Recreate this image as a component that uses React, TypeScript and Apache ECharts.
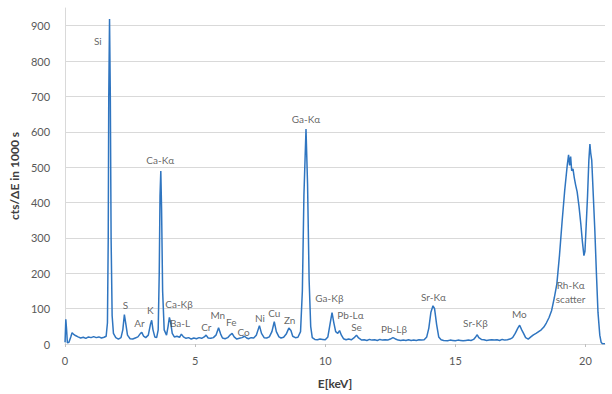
import React, { useEffect, useRef } from "react";
import * as echarts from "echarts";

// Spectrum: energy (keV) and counts per ΔE in 1000 s
const energy = [
  0.0, 0.03, 0.06, 0.09, 0.15, 0.22, 0.27, 0.32, 0.4, 0.5, 0.6, 0.7, 0.8, 0.9, 1.0, 1.1, 1.2, 1.3, 1.4, 1.5, 1.58,
  1.63, 1.66, 1.68, 1.71, 1.74, 1.77, 1.81, 1.86, 1.95, 2.05, 2.15, 2.22, 2.28, 2.34, 2.4, 2.5, 2.6, 2.7, 2.8,
  2.9, 2.95, 3.02, 3.1, 3.2, 3.28, 3.33, 3.38, 3.45, 3.52, 3.58, 3.62, 3.65, 3.68, 3.71, 3.75, 3.81, 3.9, 3.96,
  4.01, 4.06, 4.12, 4.2, 4.3, 4.4, 4.47, 4.55, 4.65, 4.75, 4.85, 4.95, 5.05, 5.15, 5.25, 5.35, 5.42, 5.5, 5.6,
  5.7, 5.8, 5.9, 5.98, 6.05, 6.15, 6.25, 6.35, 6.42, 6.5, 6.6, 6.7, 6.8, 6.9, 6.98, 7.05, 7.15, 7.25, 7.35,
  7.47, 7.55, 7.65, 7.75, 7.85, 7.95, 8.04, 8.12, 8.22, 8.3, 8.4, 8.5, 8.6, 8.68, 8.75, 8.85, 8.95, 9.05,
  9.12, 9.18, 9.26, 9.32, 9.38, 9.44, 9.5, 9.6, 9.7, 9.8, 9.9, 10.0, 10.1, 10.18, 10.26, 10.33, 10.4, 10.48,
  10.55, 10.62, 10.7, 10.8, 10.9, 11.0, 11.1, 11.2, 11.28, 11.4, 11.5, 11.6, 11.7, 11.8, 11.9, 12.0, 12.1,
  12.2, 12.3, 12.4, 12.5, 12.6, 12.68, 12.8, 12.9, 13.0, 13.1, 13.2, 13.3, 13.4, 13.5, 13.6, 13.7, 13.8,
  13.9, 13.98, 14.06, 14.14, 14.2, 14.28, 14.36, 14.45, 14.55, 14.7, 14.8, 14.9, 15.0, 15.1, 15.2, 15.3,
  15.4, 15.5, 15.6, 15.7, 15.78, 15.84, 15.9, 16.0, 16.1, 16.2, 16.3, 16.4, 16.5, 16.6, 16.7, 16.8, 16.9,
  17.0, 17.1, 17.2, 17.3, 17.4, 17.47, 17.55, 17.62, 17.7, 17.8, 17.9, 18.0, 18.1, 18.2, 18.3, 18.4, 18.5,
  18.6, 18.7, 18.8, 18.9, 19.0, 19.1, 19.2, 19.3, 19.35, 19.39, 19.43, 19.47, 19.52, 19.57, 19.62, 19.68,
  19.75, 19.82, 19.88, 19.94, 19.98, 20.03, 20.08, 20.13, 20.17, 20.2, 20.24, 20.3, 20.36, 20.42, 20.48,
  20.55, 20.6, 20.65, 20.75,
];
const counts = [
  5, 70, 40, 3, 5, 20, 32, 28, 24, 20, 17, 19, 16, 20, 18, 21, 18, 20, 17, 19, 22,
  60, 300, 700, 919, 700, 300, 80, 30, 18, 14, 18, 40, 83, 55, 25, 15, 14, 17, 20,
  30, 33, 22, 18, 25, 55, 67, 40, 20, 18, 40, 200, 420, 489, 380, 150, 40, 25, 50,
  75, 60, 30, 20, 22, 19, 28, 20, 16, 18, 14, 17, 15, 18, 16, 20, 25, 17, 16,
  18, 25, 46, 28, 17, 15, 18, 26, 30, 20, 14, 16, 18, 22, 17, 15, 18, 17, 25,
  52, 30, 18, 17, 20, 35, 63, 35, 20, 17, 19, 28, 45, 38, 22, 18, 19, 35,
  150, 420, 608, 450, 180, 50, 18, 13, 12, 14, 13, 12, 20, 55, 89, 60, 35, 30,
  38, 25, 15, 12, 14, 12, 17, 25, 17, 11, 12, 10, 13, 11, 12, 10, 13,
  11, 12, 11, 14, 18, 15, 11, 10, 11, 10, 12, 10, 11, 10, 12, 11, 12,
  20, 45, 90, 108, 100, 55, 20, 12, 10, 9, 11, 10, 9, 11, 10, 9,
  10, 11, 10, 13, 20, 26, 18, 13, 12, 10, 11, 12, 11, 12, 10, 13, 11,
  12, 14, 18, 30, 45, 53, 40, 30, 18, 14, 20, 26, 30, 35, 40, 48, 60,
  75, 95, 130, 170, 250, 345, 433, 506, 535, 505, 530, 490, 495, 470, 450, 430,
  390, 340, 290, 250, 262, 340, 420, 520, 565, 540, 520, 420, 320, 200, 90,
  25, 5, 1, 1,
];

// Peak annotations: label, energy (keV), counts position of label centre
const peakLabels = ["Si", "Ca-Kα", "Ga-Kα", "S", "Ar", "K", "Ca-Kβ", "Ba-L", "Cr", "Mn", "Fe", "Co", "Ni", "Cu", "Zn", "Ga-Kβ", "Pb-Lα", "Se", "Pb-Lβ", "Sr-Kα", "Sr-Kβ", "Mo", "Rh-Kα\nscatter"];
const peakLabelE = [1.26, 3.66, 9.26, 2.32, 2.86, 3.28, 4.38, 4.42, 5.43, 5.87, 6.39, 6.86, 7.49, 8.04, 8.63, 10.16, 10.97, 11.2, 12.64, 14.16, 15.77, 17.46, 19.43];
const peakLabelC = [856, 519, 636, 111, 58, 97, 114, 58, 48, 83, 62, 33, 73, 89, 67, 129, 83, 48, 42, 134, 59, 85, 147];

const xTicks = [0, 5, 10, 15, 20];
const yTicks = [0, 100, 200, 300, 400, 500, 600, 700, 800, 900];

export default function App() {
  const ref = useRef<HTMLDivElement>(null);
  useEffect(() => {
    document.body.style.margin = "0";
    if (!ref.current) return;
    const chart = echarts.init(ref.current, null, { renderer: "svg" });
    const font = "Lato, 'Open Sans', sans-serif";
    const splitColors = yTicks.map(() => "#d9d9d9").concat(["rgba(0,0,0,0)"]);
    chart.setOption({
      animation: false,
      grid: { left: 60, right: 7, top: 8, bottom: 45, containLabel: false },
      xAxis: {
        type: "value",
        min: 0,
        max: 20.75,
        interval: 5,
        name: "E[keV]",
        nameLocation: "middle",
        nameGap: 33,
        nameTextStyle: { fontFamily: font, fontWeight: "bold", fontSize: 12, color: "#404040" },
        axisLine: { show: true, lineStyle: { color: "#d9d9d9" } },
        axisTick: { show: true, length: 3, customValues: xTicks, lineStyle: { color: "#bfbfbf" } },
        axisLabel: { customValues: xTicks, margin: 11, fontFamily: font, fontSize: 11, color: "#595959" },
        splitLine: { show: false },
      },
      yAxis: {
        type: "value",
        min: 0,
        max: 950,
        interval: 100,
        name: "cts/ΔE in 1000 s",
        nameLocation: "middle",
        nameGap: 38,
        nameRotate: 90,
        nameTextStyle: { fontFamily: font, fontWeight: "bold", fontSize: 12, color: "#404040" },
        axisLine: { show: true, lineStyle: { color: "#d9d9d9" } },
        axisTick: { show: false },
        axisLabel: { customValues: yTicks, margin: 15, fontFamily: font, fontSize: 11, color: "#595959" },
        splitLine: { show: true, lineStyle: { color: splitColors, width: 1 } },
      },
      series: [
        {
          type: "line",
          data: energy.map((e, i) => [e, counts[i]]),
          showSymbol: false,
          lineStyle: { color: "#2f75c0", width: 1.5 },
          z: 3,
        },
        {
          type: "scatter",
          data: peakLabels.map((n, i) => ({ name: n, value: [peakLabelE[i], peakLabelC[i]] })),
          symbolSize: 1,
          itemStyle: { color: "rgba(0,0,0,0)" },
          label: {
            show: true,
            position: "inside",
            formatter: "{b}",
            fontFamily: font,
            fontSize: 10,
            color: "#404040",
            textBorderWidth: 0,
            textBorderColor: "transparent",
            lineHeight: 14,
            align: "center",
          },
          z: 4,
        },
      ],
    });
    return () => chart.dispose();
  }, []);
  return <div ref={ref} style={{ width: 612, height: 394 }} />;
}
